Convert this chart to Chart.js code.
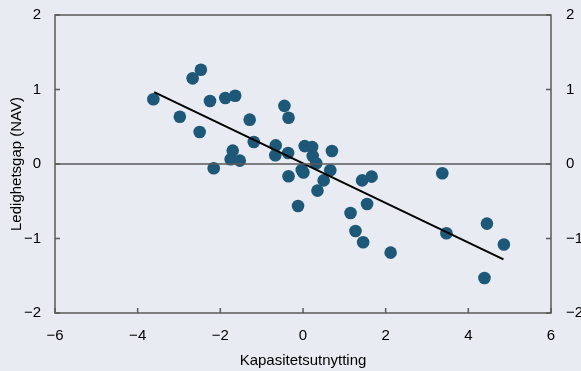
<!DOCTYPE html>
<html lang="no">
<head>
<meta charset="utf-8">
<title>Kapasitetsutnytting og ledighetsgap</title>
<script src="https://cdn.jsdelivr.net/npm/chart.js@4.4.1/dist/chart.umd.min.js"></script>
<style>
  html, body { margin: 0; padding: 0; background: #e8ebf2; }
  #gapChart { display: block; }
</style>
</head>
<body>
<canvas id="gapChart" width="581" height="371"></canvas>
<script>
// data lest av figuren
const kapasitet = [-3.62, -2.98, -2.50, -2.67, -2.47, -2.25, -2.16, -1.88, -1.64, -1.70,
  -1.75, -1.53, -1.29, -1.19, -0.66, -0.67, -0.45, -0.35, -0.36, -0.35,
  0.04, 0.22, 0.235, 0.32, -0.03, 0.01, 0.50, 0.35, 0.66, 0.70,
  -0.12, 1.15, 1.27, 1.455, 1.43, 1.66, 1.55, 2.12, 3.37, 3.47,
  4.45, 4.39, 4.86];
const ledighetsgap = [0.87, 0.635, 0.43, 1.15, 1.265, 0.845, -0.058, 0.885, 0.917, 0.18,
  0.063, 0.045, 0.595, 0.295, 0.25, 0.117, 0.78, 0.62, 0.147, -0.165,
  0.24, 0.228, 0.107, 0.01, -0.08, -0.115, -0.22, -0.357, -0.084, 0.175,
  -0.563, -0.657, -0.90, -1.05, -0.22, -0.17, -0.536, -1.19, -0.125, -0.93,
  -0.80, -1.53, -1.08];
const trendX = [-3.6, 4.85];
const trendY = [0.965, -1.28];
const xTicks = [-6, -4, -2, 0, 2, 4, 6];
const yTicks = [-2, -1, 0, 1, 2];

const minus = v => String(v).replace("-", "\u2212");

// ramme, nullinje og innovervendte tick-streker
const rammePlugin = {
  id: "ramme",
  afterDatasetsDraw(chart) {
    const c = chart.ctx;
    const a = chart.chartArea;
    const x = chart.scales.x, y = chart.scales.y;
    c.save();
    c.strokeStyle = "#5a5a5a";
    c.lineWidth = 1.5;
    c.beginPath();
    c.moveTo(a.left, y.getPixelForValue(0));
    c.lineTo(a.right, y.getPixelForValue(0));
    c.stroke();
    c.strokeRect(a.left, a.top, a.right - a.left, a.bottom - a.top);
    c.beginPath();
    xTicks.forEach(t => {
      const px = x.getPixelForValue(t);
      c.moveTo(px, a.bottom);
      c.lineTo(px, a.bottom - 5);
    });
    yTicks.forEach(t => {
      const py = y.getPixelForValue(t);
      c.moveTo(a.left, py);
      c.lineTo(a.left + 5, py);
      c.moveTo(a.right, py);
      c.lineTo(a.right - 5, py);
    });
    c.stroke();
    c.restore();
  }
};

// fast størrelse på aksene, uten ekstra luft
function fastBredde(w) {
  return s => { s.width = w; s.paddingTop = 0; s.paddingBottom = 0; };
}

document.addEventListener("DOMContentLoaded", function () {
  const ctx = document.getElementById("gapChart").getContext("2d");
  const font = { family: "'Liberation Sans', Arial, sans-serif", size: 15 };

  const gapChart = new Chart(ctx, {
    type: "scatter",
    data: {
      datasets: [{
        label: "Fylker",
        data: kapasitet.map((v, i) => ({ x: v, y: ledighetsgap[i] })),
        backgroundColor: "#1e5878",
        borderWidth: 0,
        pointRadius: 6.3,
        pointHoverRadius: 6.3,
        order: 2
      }, {
        label: "Trend",
        type: "line",
        data: trendX.map((v, i) => ({ x: v, y: trendY[i] })),
        borderColor: "#000000",
        borderWidth: 2,
        pointRadius: 0,
        fill: false,
        order: 1
      }]
    },
    options: {
      responsive: false,
      animation: false,
      layout: { padding: { top: 15, right: 0, left: 0, bottom: 0 } },
      plugins: {
        legend: { display: false },
        tooltip: { enabled: false }
      },
      scales: {
        x: {
          type: "linear",
          min: -6, max: 6,
          afterBuildTicks: s => { s.ticks = xTicks.map(v => ({ value: v })); },
          afterFit: s => { s.height = 58; s.paddingLeft = 0; s.paddingRight = 0; },
          grid: { display: false, drawTicks: false },
          border: { display: false },
          ticks: { color: "#000", font: font, padding: 14, maxRotation: 0, callback: minus },
          title: { display: true, text: "Kapasitetsutnytting", color: "#000", font: font, padding: { top: 0, bottom: 1 } }
        },
        y: {
          position: "left",
          min: -2, max: 2,
          afterBuildTicks: s => { s.ticks = yTicks.map(v => ({ value: v })); },
          afterFit: fastBredde(55),
          grid: { display: false, drawTicks: false },
          border: { display: false },
          ticks: { color: "#000", font: font, padding: 14, callback: minus },
          title: { display: true, text: "Ledighetsgap (NAV)", color: "#000", font: font, padding: { top: 8, bottom: 0 } }
        },
        y2: {
          position: "right",
          min: -2, max: 2,
          afterBuildTicks: s => { s.ticks = yTicks.map(v => ({ value: v })); },
          afterFit: fastBredde(30),
          grid: { display: false, drawTicks: false },
          border: { display: false },
          ticks: { color: "#000", font: font, padding: 15, callback: minus }
        }
      }
    },
    plugins: [rammePlugin]
  });
});
</script>
</body>
</html>
